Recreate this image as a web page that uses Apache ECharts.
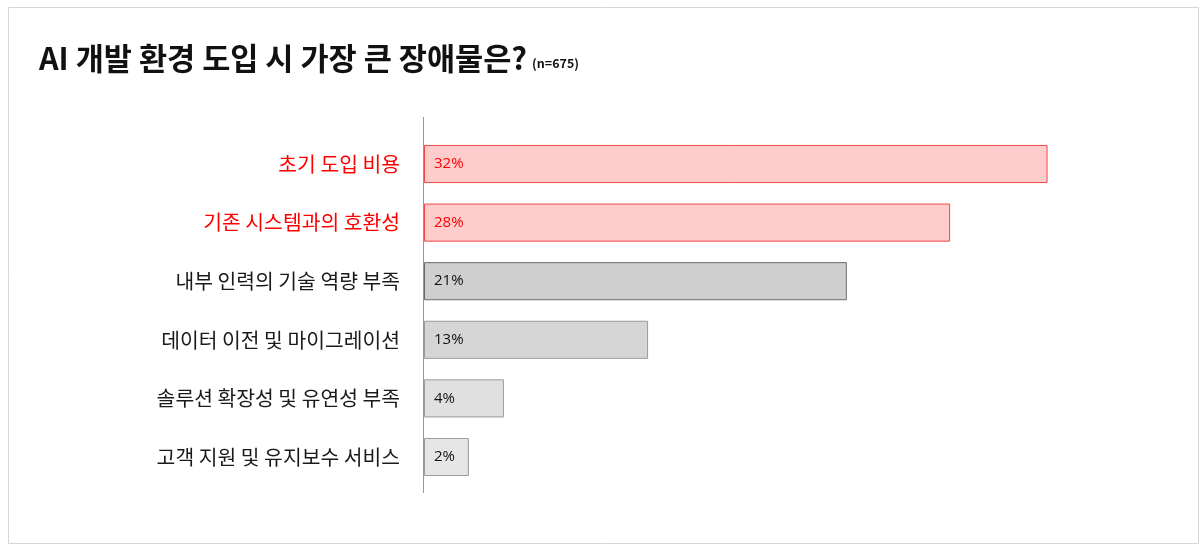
<!DOCTYPE html>
<html>
<head>
<meta charset="utf-8">
<script src="https://cdn.jsdelivr.net/npm/echarts@6/dist/echarts.min.js"></script>
<style>
html,body{margin:0;padding:0;background:#fff;}
#c{width:1202px;height:548px;}
</style>
</head>
<body>
<div id="c"></div>
<script>
const categories = ['초기 도입 비용','기존 시스템과의 호환성','내부 인력의 기술 역량 부족','데이터 이전 및 마이그레이션','솔루션 확장성 및 유연성 부족','고객 지원 및 유지보수 서비스'];
const barValues = [32, 27, 21.7, 11.5, 4.1, 2.3];
const valueLabels = ['32%','28%','21%','13%','4%','2%'];
const highlighted = [true, true, false, false, false, false];
const fills = ['#FFCCCC','#FFCCCC','#CFCFCF','#D5D5D5','#E0E0E0','#E6E6E6'];
const borders = ['#F04848','#F04848','#6A6A6A','#9A9A9A','#9A9A9A','#9A9A9A'];

const chart = echarts.init(document.getElementById('c'));
const font = '"Noto Sans CJK KR", "Noto Sans", sans-serif';
chart.setOption({
  animation: false,
  title: {
    left: 34, top: 38,
    text: '{a|AI 개발 환경 도입 시 가장 큰 장애물은?} {b|(n=675)}',
    textStyle: {
      rich: {
        a: {fontFamily: font, fontSize: 30.6, fontWeight: 'bold', color: '#111'},
        b: {fontFamily: font, fontSize: 12.5, fontWeight: 'bold', color: '#111', padding: [10,0,0,0]}
      }
    }
  },
  graphic: [
    {type: 'rect', shape: {x: 8.5, y: 7.5, width: 1190, height: 536}, style: {fill: 'none', stroke: '#D6D6D6', lineWidth: 1}, z: -1},
    {type: 'line', shape: {x1: 423.5, y1: 117, x2: 423.5, y2: 493}, style: {stroke: '#999', lineWidth: 1}, z: 10}
  ],
  grid: {left: 424, right: 96, top: 134.7, bottom: 61.7, containLabel: false},
  xAxis: {type: 'value', min: 0, max: 35, show: false},
  yAxis: {
    type: 'category', data: categories, inverse: true,
    axisLine: {show: false}, axisTick: {show: false},
    axisLabel: {
      margin: 24, fontSize: 20.4, fontFamily: font,
      color: (v, i) => highlighted[i] ? '#FF0000' : '#1A1A1A'
    }
  },
  series: [{
    type: 'bar',
    barCategoryGap: '35%',
    data: barValues.map((v, i) => ({
      value: v,
      itemStyle: {color: fills[i], borderColor: borders[i], borderWidth: 1},
      label: {
        show: true, position: 'insideLeft', distance: 10,
        formatter: valueLabels[i],
        fontSize: 15, fontFamily: '"Open Sans", "Noto Sans", sans-serif',
        color: highlighted[i] ? '#FF0000' : '#111'
      }
    }))
  }]
});
</script>
</body>
</html>
